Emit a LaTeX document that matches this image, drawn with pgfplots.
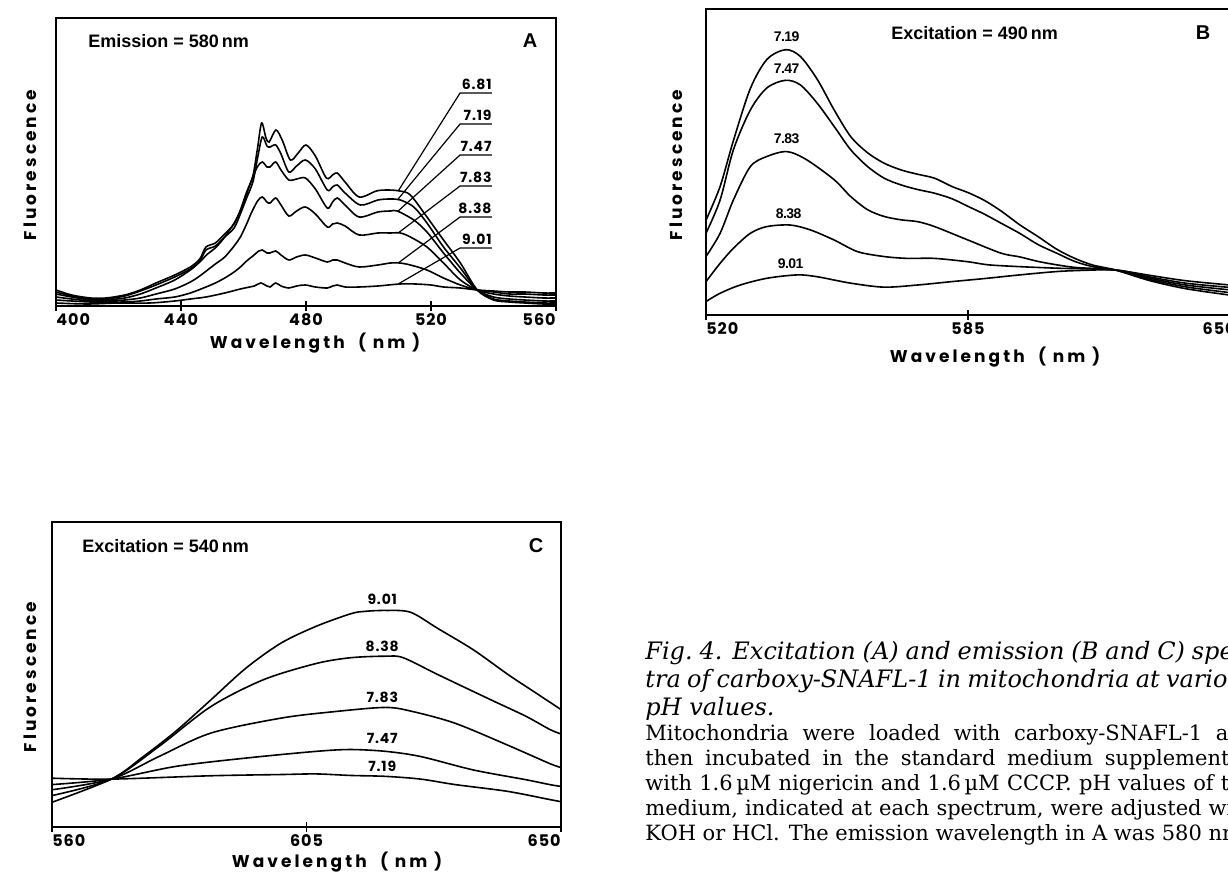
\documentclass[border=0pt]{standalone}
\usepackage{fontspec}
\usepackage{pgfplots}
\pgfplotsset{compat=1.18}
\setmainfont{DejaVu Serif}
\newfontfamily\geo[LetterSpace=6]{Poppins}
\newfontfamily\geowide[LetterSpace=18]{Poppins}
\newfontfamily\hel{Liberation Sans}
\newfontfamily\helnarrow[LetterSpace=-4]{Liberation Sans}

\tikzset{
  tlab/.style={font=\geo\bfseries\fontsize{8}{9}\selectfont, inner sep=0pt, yshift=-3.5pt},
  clab/.style={font=\geo\bfseries\fontsize{7}{8}\selectfont, inner sep=0pt},
  blab/.style={font=\helnarrow\bfseries\fontsize{7}{8}\selectfont, inner sep=0pt},
  head/.style={font=\hel\bfseries\fontsize{9}{10}\selectfont, inner sep=0pt},
  axlab/.style={font=\geowide\bfseries\fontsize{8.5}{10}\selectfont, inner sep=0pt},
}
\pgfplotscreateplotcyclelist{mono}{%
  black,solid,mark=none,line width=0.8pt,smooth,tension=0.5\\%
}
\pgfplotsset{
  panel/.style={
    scale only axis, clip mode=individual, anchor=south west,
    axis line style={line width=1pt},
    xtick pos=bottom, ytick=\empty, xticklabels={},
    tick align=center, major tick length=5pt,
    every tick/.style={black, line width=0.8pt},
    cycle list name=mono,
  }
}

\begin{document}
\begin{tikzpicture}
\useasboundingbox (0,0) rectangle (614pt,439.5pt);

% ---------- panel A : excitation spectra ----------
\begin{axis}[panel, at={(28pt,286.5pt)}, width=250pt, height=144pt,
  xmin=400, xmax=560, ymin=0, ymax=288, xtick={400,440,...,560}]
% pH 6.81
\addplot coordinates {(400,16)(405,11)(411,8)(416,8)(422,11)(427,16)(432,23)(438,31)
  (443,39)(446,47)(448,59)(451,63)(454,72)(457,82)(459,96)(461,114)(463,130)(464.5,158)
  (465.8,183)(467.2,168)(468.2,164)(470.4,176)(472.5,165)(475,146)(477.5,153)(480,161)
  (483,150)(486.5,128)(488.5,131)(490,133)(492.5,124)(497,109)(502.5,115)(506,116)
  (510,115)(513.4,111)(518.7,89)(524,66)(529.4,43)(534.8,16)(540,6)(545,4)(550,3)(556,2)(560,2)};
% pH 7.19
\addplot coordinates {(400,14)(405,10)(411,7)(416,7)(422,10)(427,15)(432,21)(438,29)
  (443,37)(446,45)(448,56)(451,60)(454,69)(457,78)(459,92)(461,108)(463,124)(464.5,148)
  (466,169)(467.5,160)(468.5,159)(470.3,161)(472,152)(474.5,134)(477,140)(479.8,146)
  (483,137)(486.8,116)(488.5,119)(490,121)(492.5,113)(497.4,101)(503,106)(507,107)
  (510.2,106)(514.5,99)(518.7,83)(524,59)(529.4,38)(534.8,16)(540,7)(545,5)(550,4)(556,3)(560,3)};
% pH 7.47
\addplot coordinates {(400,12)(405,9)(411,6)(416,6)(422,8)(427,12)(432,18)(438,26)
  (443,36)(446,44)(448.5,52)(451,58)(454,69)(457,83)(459,95)(460.7,109)(462.5,125)
  (464.4,139)(466,144)(467.5,139)(468.5,139)(470.3,144)(472,136)(474.5,126)(477,127)
  (479.8,128)(483,117)(486.8,98)(488.5,104)(490,108)(492.5,101)(497,89)(503,94)(507,95)
  (509.2,95)(514.5,86)(518.7,74)(524,53)(529.4,33)(534.8,16)(540,9)(545,7)(550,6)(556,5)(560,5)};
% pH 7.83
\addplot coordinates {(400,9)(405,7)(411,5)(416,5)(422,6)(427,8)(432,12)(438,17)
  (443,24)(446,30)(448.5,36)(451,42)(454,49)(457,60)(459,69)(461,82)(462.5,93)
  (464.5,105)(466,109)(467.5,104)(468.5,103)(470.3,108)(472,101)(474.5,90)(477,95)
  (479.8,99)(483,92)(486.8,79)(488.5,82)(490,83)(492.5,80)(497,71)(503,73)(507,73)
  (510.2,73)(513.4,69)(518.7,59)(524,43)(529.4,26)(534.8,16)(540,12)(545,10)(550,9)(556,8)(560,8)};
% pH 8.38
\addplot coordinates {(400,6)(405,5)(411,4)(416,4)(422,4)(427,5)(432,7)(438,9)
  (443,13)(448,19)(451,23)(454,28)(457,34)(459,39)(461,45)(463,50)(464.9,55)
  (466,56)(467.5,53)(468.5,53)(470.3,55)(472,51)(474.5,46)(477,49)(479.8,51)
  (483,48)(486.8,44)(488.5,46)(490,46)(492.5,43)(497,39)(503,41)(507,43)(510,43)
  (513.4,41)(518.7,36)(524,28)(529.4,21)(534.8,16)(540,14)(545,12)(550,12)(556,11)(560,11)};
% pH 9.01
\addplot coordinates {(400,3)(410,2)(420,3)(430,3)(438,5)(443,7)(448,9)(454,13)
  (459,17)(462,19)(463.5,20)(465.5,23)(467.5,20)(468.5,19)(470.3,23)(472,20)(474.5,18)
  (477,20)(479.8,21)(483,19)(486.8,18)(488.5,20)(490,21)(492.5,19)(497,19)(503,20)
  (510,22)(515,22)(520,21)(524,19)(529.4,18)(534.8,16)(540,15)(545,14)(550,14)(556,13)(560,13)};
% labels and leaders
\draw[line width=0.6pt] (axis cs:509.5,115) -- (axis cs:529.3,213) -- (axis cs:539.5,213);
\draw[line width=0.6pt] (axis cs:509.5,107) -- (axis cs:529.3,182) -- (axis cs:539.5,182);
\draw[line width=0.6pt] (axis cs:509.5,95)  -- (axis cs:529.3,151) -- (axis cs:539.5,151);
\draw[line width=0.6pt] (axis cs:509.5,73)  -- (axis cs:529.3,120) -- (axis cs:539.5,120);
\draw[line width=0.6pt] (axis cs:509.5,43)  -- (axis cs:529.3,89)  -- (axis cs:539.5,89);
\draw[line width=0.6pt] (axis cs:509.5,22)  -- (axis cs:529.3,58)  -- (axis cs:539.5,58);
\node[clab, anchor=south east] at (axis cs:539.5,216) {6.81};
\node[clab, anchor=south east] at (axis cs:539.5,185) {7.19};
\node[clab, anchor=south east] at (axis cs:539.5,154) {7.47};
\node[clab, anchor=south east] at (axis cs:539.5,123) {7.83};
\node[clab, anchor=south east] at (axis cs:539.5,92)  {8.38};
\node[clab, anchor=south east] at (axis cs:539.5,61)  {9.01};
\node[tlab, anchor=north west] at (axis cs:400,0) {400};
\node[tlab, anchor=north] at (axis cs:440,0) {440};
\node[tlab, anchor=north] at (axis cs:480,0) {480};
\node[tlab, anchor=north] at (axis cs:520,0) {520};
\node[tlab, anchor=north east] at (axis cs:560,0) {560};
\end{axis}

% ---------- panel B : emission, excitation 490 nm ----------
\begin{axis}[panel, at={(353pt,282pt)}, width=262pt, height=153pt,
  xmin=520, xmax=650, ymin=0, ymax=100, xtick={520,585,650}]
% pH 7.19
\addplot coordinates {(520,31)(523.5,42)(526.8,57)(531,74)(535.1,83.5)(539.7,86.7)
  (543.4,84.5)(547.6,77)(551.8,67)(555.9,58.3)(560.1,53)(564.2,49.6)(568.4,47.4)
  (572.5,46)(576.7,44.7)(581,42)(585,40)(589,37.5)(593.2,34)(597.8,29.5)(602.4,25.6)
  (607,21.5)(611.5,18.5)(616,16.3)(621.6,14.7)(629.9,11.3)(639,8.6)(650,6.5)};
% pH 7.47
\addplot coordinates {(520,26.7)(523.5,37.6)(526.8,54)(531,67)(535.1,74.2)(539.7,76.7)
  (543.4,75.2)(547.6,69.2)(551.8,61.6)(555.9,54)(560.1,48.5)(564.2,44.7)(568.4,42.5)
  (572.5,41)(576.7,39.8)(581,38)(585,35.5)(589,33)(593.2,30)(597.8,26.7)(602.4,23)
  (607,20.2)(611.5,17.5)(616,15.8)(621.6,14.7)(629.9,11.7)(639,9.2)(650,7.3)};
% pH 7.83
\addplot coordinates {(520,19.1)(523.5,26.7)(526.8,37.6)(531,48.5)(535.1,51.8)(540.1,53.4)
  (545,50.7)(551.8,44.2)(555.9,38.7)(560.1,34.4)(564.2,32.2)(568.4,31.1)(572.5,30.5)
  (576.7,28.9)(585,24.5)(593.2,20.2)(597.8,19)(602.4,17.5)(607,16.4)(612,15.5)
  (621.6,14.7)(629.9,12.1)(639,9.8)(650,8.2)};
% pH 8.38
\addplot coordinates {(520,10.9)(523.5,16.9)(526.8,21.8)(531,26.7)(535.1,28.9)(540.9,29.4)
  (545.9,27.8)(551.8,24.5)(557.6,20.7)(564.2,19.1)(570,18.5)(576.7,18.5)(585,17.4)
  (590,16.4)(597.8,15.8)(607,15.3)(621.6,14.7)(629.9,12.5)(639,10.4)(650,9)};
% pH 9.01
\addplot coordinates {(520,4.4)(523.5,7.1)(528.5,9.8)(535.1,12)(542.6,13.1)(547.6,12.5)
  (555.9,10.4)(564.2,9.1)(572.5,9.8)(580.9,10.9)(589,11.9)(597.8,13.1)(607,14.2)
  (614,14.6)(621.6,14.7)(629.9,13)(639,11.2)(650,9.8)};
\node[blab] at (axis cs:540,90.8) {7.19};
\node[blab] at (axis cs:540,80.6) {7.47};
\node[blab] at (axis cs:540,57.6) {7.83};
\node[blab] at (axis cs:540.5,33.2) {8.38};
\node[blab] at (axis cs:541,16.8) {9.01};
\node[tlab, anchor=north west] at (axis cs:520,0) {520};
\node[tlab, anchor=north] at (axis cs:585,0) {585};
\node[tlab, anchor=north east, xshift=3pt] at (axis cs:650,0) {650};
\end{axis}

% ---------- panel C : emission, excitation 540 nm ----------
\begin{axis}[panel, at={(26pt,26pt)}, width=254.5pt, height=152.5pt,
  xmin=560, xmax=650, ymin=0, ymax=100, xtick={560,605,650}]
% pH 9.01
\addplot coordinates {(560,8.1)(570.5,15.7)(575.8,22.6)(581.9,31.4)(588.1,41.7)(594.3,52.1)
  (600.5,60.3)(606.7,65.8)(612.8,69.9)(615.3,70.7)(619,71)(623.4,70.4)(628.3,65)
  (634.5,58.1)(640.7,49.9)(645.6,43.9)(650,38.5)};
% pH 8.38
\addplot coordinates {(560,10.3)(570.5,15.7)(578.9,26.4)(588.1,39.5)(597.4,48.3)(606.7,53.6)
  (612.8,55.5)(619,56)(622.1,55.5)(628.3,49.9)(637.6,41.7)(643.8,36.3)(648,32)(650,30.5)};
% pH 7.83
\addplot coordinates {(560,12.2)(570.5,15.7)(578.9,23.1)(588.1,30.8)(600.5,35.7)(609.8,37.8)
  (619,39.2)(623.9,37.8)(631.3,34)(640.5,26.9)(648,20.8)(650,19.5)};
% pH 7.47
\addplot coordinates {(560,13.9)(570.5,15.7)(582,19.9)(594.3,22.6)(606.7,24.8)(612.8,25.4)
  (619,24.8)(625.2,23.1)(634.5,18.7)(643.8,15.5)(648,13.9)(650,13.3)};
% pH 7.19
\addplot coordinates {(560,16)(570.5,15.7)(588.1,16.8)(600.5,17.2)(606.7,17.4)(612.8,16.9)
  (619,16.6)(625.2,15.7)(631.3,13.9)(640.5,11.7)(648,9)(650,8.3)};
\node[clab] at (axis cs:618.4,74.5) {9.01};
\node[clab] at (axis cs:618.4,59.2) {8.38};
\node[clab] at (axis cs:618.4,42.6) {7.83};
\node[clab] at (axis cs:618.4,29) {7.47};
\node[clab] at (axis cs:618.4,19.9) {7.19};
\node[tlab, anchor=north west] at (axis cs:560,0) {560};
\node[tlab, anchor=north] at (axis cs:605,0) {605};
\node[tlab, anchor=north east] at (axis cs:650,0) {650};
\end{axis}

% ---------- headings and axis titles ----------
\node[head, anchor=west] at (44pt,419pt) {Emission = 580\,nm};
\node[head, font=\hel\bfseries\fontsize{10}{11}\selectfont] at (265pt,419pt) {A};
\node[head, anchor=west] at (445.5pt,423pt) {Excitation = 490\,nm};
\node[head, font=\hel\bfseries\fontsize{10}{11}\selectfont] at (601.5pt,423pt) {B};
\node[head, anchor=west] at (41pt,166.5pt) {Excitation = 540\,nm};
\node[head, font=\hel\bfseries\fontsize{10}{11}\selectfont] at (268pt,166.5pt) {C};

\node[axlab] at (157.5pt,268pt) {Wavelength\ \ ( nm )};
\node[axlab] at (497.5pt,261pt) {Wavelength\ \ ( nm )};
\node[axlab] at (168.5pt,8.5pt) {Wavelength\ \ ( nm )};
\node[axlab, rotate=90] at (15pt,357pt) {Fluorescence};
\node[axlab, rotate=90] at (338pt,357pt) {Fluorescence};
\node[axlab, rotate=90] at (15pt,101pt) {Fluorescence};

% ---------- caption (cut at the right edge, as in the scan) ----------
\begin{scope}
\clip (0,0) rectangle (614pt,439.5pt);
\node[anchor=north west, text width=305pt, align=justify, inner sep=0pt] at (322.5pt,119pt) {%
  {\itshape\fontsize{12}{14}\selectfont Fig.~4. Excitation (A) and emission (B and C) spec-\linebreak
  tra of carboxy-SNAFL-1 in mitochondria at various\linebreak pH values.\par}
  {\fontsize{10.5}{12.5}\selectfont Mitochondria were loaded with carboxy-SNAFL-1 and\linebreak
  then incubated in the standard medium supplemented\linebreak
  with 1.6\,µM nigericin and 1.6\,µM CCCP. pH values of the\linebreak
  medium, indicated at each spectrum, were adjusted with\linebreak
  KOH or HCl. The emission wavelength in A was 580 nm.\par}};
\end{scope}
\end{tikzpicture}
\end{document}
